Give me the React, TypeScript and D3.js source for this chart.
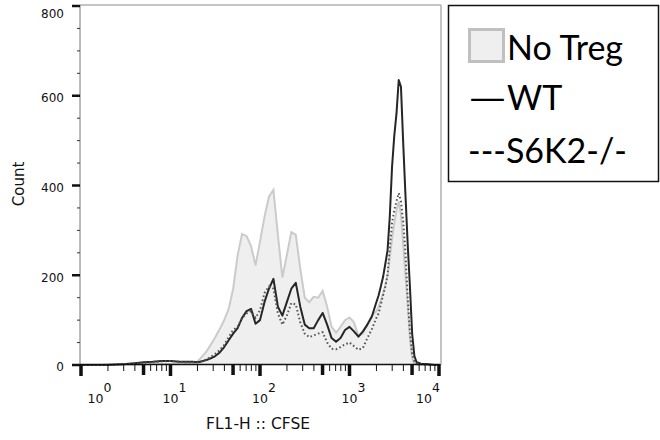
import React, { useRef, useEffect } from "react";
import { select, scaleLog, scaleLinear, area, line, range } from "d3";

// log10(FL1-H) positions where the histograms were read
const cfseExponent = [
  0, 0.1, 0.2, 0.3, 0.4, 0.5, 0.6, 0.7, 0.8, 0.9, 1.0, 1.1, 1.2,
  1.25, 1.3, 1.35, 1.4, 1.45, 1.5, 1.55, 1.6, 1.65, 1.7, 1.75, 1.8, 1.85, 1.9, 1.95,
  2.0, 2.05, 2.1, 2.15, 2.2, 2.25, 2.3, 2.35, 2.4, 2.45, 2.5, 2.55, 2.6, 2.65, 2.7, 2.75, 2.8, 2.85, 2.9, 2.95,
  3.0, 3.05, 3.1, 3.15, 3.2, 3.25, 3.3,
  3.325, 3.35, 3.375, 3.4, 3.425, 3.45, 3.475, 3.5, 3.525, 3.55, 3.575, 3.6, 3.625, 3.65, 3.675, 3.7, 3.725, 3.75,
  3.8, 3.85, 3.9, 3.95, 4.0,
];

const noTregCount = [
  0, 0, 0, 1, 1, 1, 1, 1, 2, 2, 2, 2, 2,
  3, 8, 18, 30, 45, 62, 80, 100, 125, 170, 245, 292, 287, 265, 222,
  275, 330, 375, 390, 290, 195, 245, 296, 290, 215, 150, 140, 152, 150, 165, 130, 85, 72, 85, 100,
  106, 95, 65, 70, 92, 110, 120,
  130, 145, 160, 178, 200, 240, 280, 315, 345, 365, 335, 270, 200, 135, 60, 15, 3, 1,
  0, 0, 0, 0, 0,
];

const wtCount = [
  0, 0, 0, 0, 1, 2, 4, 6, 7, 9, 9, 7, 7,
  7, 6, 8, 11, 15, 20, 28, 40, 55, 70, 82, 105, 120, 125, 92,
  100, 140, 170, 192, 130, 110, 140, 170, 183, 130, 90, 82, 82, 100, 116, 90, 60, 52, 60, 78,
  85, 75, 63, 75, 90, 108, 140,
  155, 175, 196, 225, 255, 330, 440, 510, 560, 635, 620, 495, 380, 270, 175, 70, 20, 6,
  3, 2, 1, 0, 0,
];

const s6k2Count = [
  0, 0, 0, 0, 1, 2, 3, 5, 6, 8, 9, 7, 6,
  6, 6, 9, 12, 18, 25, 33, 45, 62, 78, 85, 105, 115, 120, 105,
  122, 160, 175, 170, 115, 90, 110, 138, 135, 95, 70, 62, 66, 70, 73, 50, 36, 35, 40, 46,
  50, 42, 34, 38, 60, 80, 105,
  115, 135, 155, 175, 200, 260, 316, 345, 365, 383, 365, 320, 250, 150, 75, 25, 8, 3,
  2, 1, 0, 0, 0,
];

const countTicks = [0, 200, 400, 600, 800];
const decadeTicks = [1, 10, 100, 1000, 10000];
const decadeExponents = ["0", "1", "2", "3", "4"];
const legendLabels = ["No Treg", "WT", "---S6K2-/-"];

function CfseHistogram() {
  const svgRef = useRef<SVGSVGElement>(null);

  useEffect(() => {
    const svg = select(svgRef.current);
    svg.selectAll("*").remove();

    const xScale = scaleLog().domain([1, 10000]).range([81, 439]);
    const yScale = scaleLinear().domain([0, 800]).range([365, 6]);
    const left = 80, right = 441, top = 5, bottom = 365;

    const points = (counts: number[]) =>
      cfseExponent.map((e, i) => [Math.pow(10, e), counts[i]] as [number, number]);

    // frame
    svg.append("line").attr("x1", left).attr("x2", right).attr("y1", top).attr("y2", top)
      .attr("stroke", "#c4c4c4").attr("stroke-width", 2);
    svg.append("line").attr("x1", right).attr("x2", right).attr("y1", top).attr("y2", bottom)
      .attr("stroke", "#b0b0b0").attr("stroke-width", 1.5);

    // No Treg filled histogram
    const areaGen = area<[number, number]>()
      .x((d) => xScale(d[0]))
      .y0(yScale(0))
      .y1((d) => yScale(d[1]));
    const lineGen = line<[number, number]>()
      .x((d) => xScale(d[0]))
      .y((d) => yScale(d[1]));

    svg.append("path").attr("d", areaGen(points(noTregCount))).attr("fill", "#efefef");
    svg.append("path").attr("d", lineGen(points(noTregCount)))
      .attr("fill", "none").attr("stroke", "#cbcbcb").attr("stroke-width", 2);

    svg.append("path").attr("d", lineGen(points(wtCount)))
      .attr("fill", "none").attr("stroke", "#262626").attr("stroke-width", 2)
      .attr("stroke-linejoin", "round");

    svg.append("path").attr("d", lineGen(points(s6k2Count)))
      .attr("fill", "none").attr("stroke", "#555").attr("stroke-width", 2)
      .attr("stroke-dasharray", "1.6 2.4");

    // y axis
    svg.append("line").attr("x1", left).attr("x2", left).attr("y1", top).attr("y2", bottom)
      .attr("stroke", "#777").attr("stroke-width", 1);
    svg.selectAll(".yminor")
      .data(range(50, 800, 50).filter((v) => v % 200 !== 0))
      .join("line")
      .attr("class", "yminor")
      .attr("x1", left - 3).attr("x2", left)
      .attr("y1", (d) => yScale(d)).attr("y2", (d) => yScale(d))
      .attr("stroke", "#333").attr("stroke-width", 1);
    svg.selectAll(".ymajor")
      .data(countTicks)
      .join("line")
      .attr("class", "ymajor")
      .attr("x1", left - 8).attr("x2", left)
      .attr("y1", (d) => yScale(d)).attr("y2", (d) => yScale(d))
      .attr("stroke", "#111").attr("stroke-width", 2.5);
    svg.selectAll(".ylabel")
      .data(countTicks)
      .join("text")
      .attr("class", "ylabel")
      .attr("x", 64)
      .attr("y", (d) => Math.max(yScale(d) + 2, 14) + 4.3)
      .attr("text-anchor", "end")
      .attr("font-family", "DejaVu Sans")
      .attr("font-size", 12)
      .attr("fill", "#111")
      .text((d) => d);

    // x axis
    svg.append("line").attr("x1", left).attr("x2", right - 1).attr("y1", bottom - 0.5).attr("y2", bottom - 0.5)
      .attr("stroke", "#111").attr("stroke-width", 1.5);
    const minorTicks: number[] = [];
    decadeTicks.slice(0, 4).forEach((d) => {
      for (let m = 2; m <= 9; m++) minorTicks.push(m * d);
    });
    svg.selectAll(".xminor")
      .data(minorTicks)
      .join("line")
      .attr("class", "xminor")
      .attr("x1", (d) => xScale(d)).attr("x2", (d) => xScale(d))
      .attr("y1", bottom).attr("y2", (d) => (String(d)[0] === "5" ? bottom + 10 : bottom + 6))
      .attr("stroke", "#111")
      .attr("stroke-width", (d) => (String(d)[0] === "5" ? 3.5 : 1));
    svg.selectAll(".xmajor")
      .data(decadeTicks)
      .join("line")
      .attr("class", "xmajor")
      .attr("x1", (d) => xScale(d)).attr("x2", (d) => xScale(d))
      .attr("y1", bottom - 1).attr("y2", bottom + 11)
      .attr("stroke", "#111").attr("stroke-width", 3.5);

    const labels = svg.selectAll(".xlabel")
      .data(decadeTicks)
      .join("g")
      .attr("class", "xlabel")
      .attr("transform", (d) => `translate(${Math.min(Math.max(xScale(d), 95.5), 424)},0)`)
      .attr("font-family", "DejaVu Sans")
      .attr("font-size", 12.5)
      .attr("fill", "#111");
    labels.append("text").attr("y", 403).attr("text-anchor", "middle").text("10");
    labels.append("text").attr("x", 8).attr("y", 392).text((d, i) => decadeExponents[i]);

    svg.append("text")
      .attr("x", 258).attr("y", 429)
      .attr("text-anchor", "middle")
      .attr("font-family", "DejaVu Sans")
      .attr("font-size", 15.5)
      .attr("fill", "#111")
      .text("FL1-H :: CFSE");
    svg.append("text")
      .attr("transform", "translate(24,184) rotate(-90)")
      .attr("text-anchor", "middle")
      .attr("font-family", "DejaVu Sans")
      .attr("font-size", 15)
      .attr("fill", "#111")
      .text("Count");

    // legend
    const legend = svg.append("g");
    legend.append("rect").attr("x", 448.5).attr("y", 5.5).attr("width", 210).attr("height", 176)
      .attr("fill", "white").attr("stroke", "#111").attr("stroke-width", 1.5);
    legend.append("rect").attr("x", 469.5).attr("y", 29.5).attr("width", 34).attr("height", 32)
      .attr("fill", "#efefef").attr("stroke", "#c0c0c0").attr("stroke-width", 3);
    legend.append("text")
      .attr("x", 468).attr("y", 110)
      .attr("font-family", "Lato")
      .attr("font-size", 34)
      .attr("textLength", 39)
      .attr("lengthAdjust", "spacingAndGlyphs")
      .text("\u2014");
    legend.selectAll(".legendLabel")
      .data(legendLabels)
      .join("text")
      .attr("class", "legendLabel")
      .attr("x", (d, i) => [507, 507, 468][i])
      .attr("y", (d, i) => [60, 110, 163][i])
      .attr("font-family", "Lato")
      .attr("font-size", 34)
      .attr("fill", "#000")
      .text((d) => d);
  }, []);

  return (
    <svg
      ref={svgRef}
      width={660}
      height={440}
      style={{ position: "absolute", left: 0, top: 0, background: "white" }}
    />
  );
}

export default function App() {
  return <CfseHistogram />;
}
